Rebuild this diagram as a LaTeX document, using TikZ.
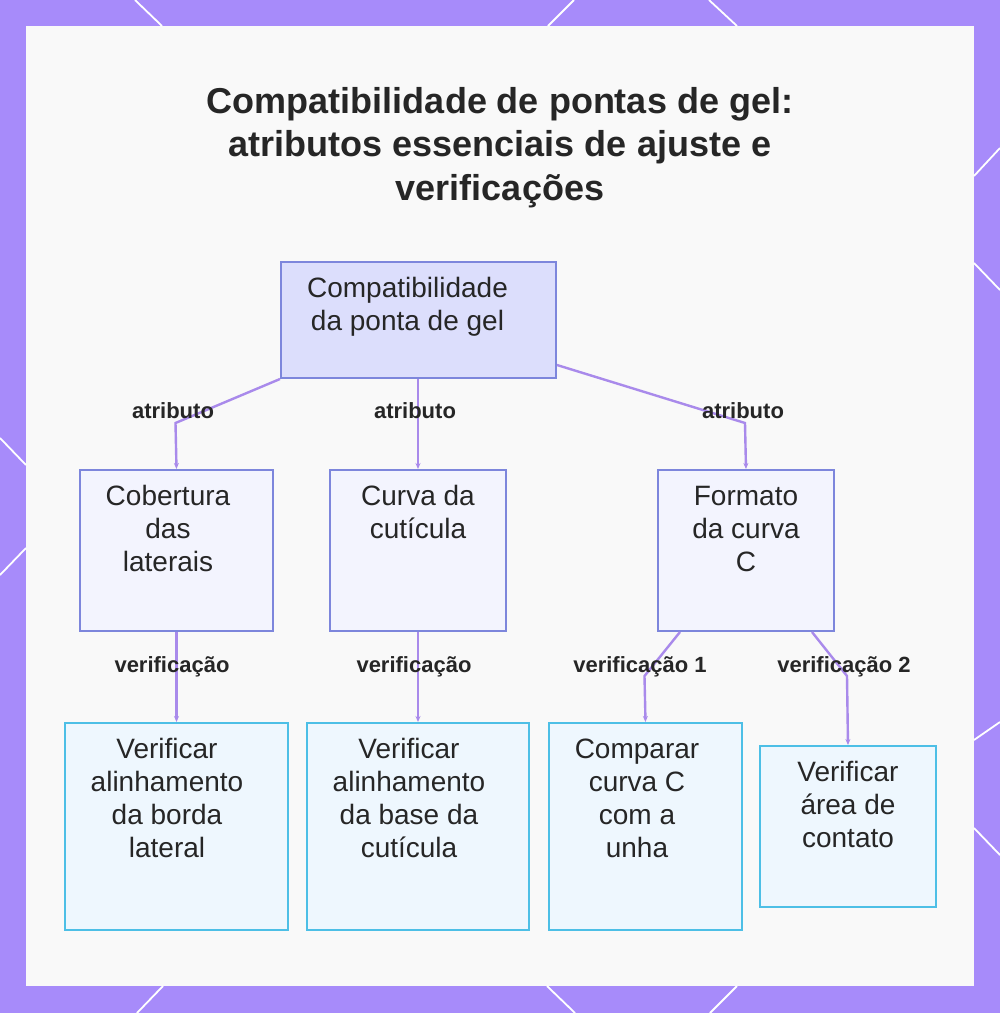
\documentclass[tikz,border=0pt]{standalone}
\usepackage{fontspec}
\setmainfont{Liberation Sans}
\usetikzlibrary{arrows.meta}
\definecolor{frame}{HTML}{A78BFA}
\definecolor{panel}{HTML}{F9F9F9}
\definecolor{edgec}{HTML}{A98AEB}
\definecolor{topfill}{HTML}{DCDEFC}
\definecolor{midfill}{HTML}{F3F4FE}
\definecolor{indb}{HTML}{7D86DC}
\definecolor{botfill}{HTML}{EEF7FE}
\definecolor{cyanb}{HTML}{4DBFE6}
\definecolor{ink}{HTML}{262626}
\newcommand{\boxtxt}[4]{\parbox[c][#1][t]{#2}{\centering\setlength\rightskip{#3 plus 1fil}\vspace*{12pt}\strut #4}}
\tikzset{
  boxbase/.style={draw, line width=2pt, inner sep=0pt, anchor=north west, text=ink,
    font=\fontsize{28}{33}\selectfont},
  topbox/.style={boxbase, draw=indb, fill=topfill},
  midbox/.style={boxbase, draw=indb, fill=midfill},
  botbox/.style={boxbase, draw=cyanb, fill=botfill},
  edge/.style={draw=edgec, line width=2.4pt, -{Stealth[length=6pt,width=5pt]}},
  elabel/.style={anchor=base, text=ink, font=\fontsize{22}{26}\selectfont\bfseries},
  deco/.style={draw=white, line width=1.8pt},
  titlef/.style={anchor=base, text=ink, font=\fontsize{36}{44}\selectfont\bfseries}
}
\begin{document}
\begin{tikzpicture}[x=1pt,y=-1pt]
\useasboundingbox (0,0) rectangle (1000,1013);
\fill[frame] (0,0) rectangle (1000,1013);
\fill[panel] (26,26) rectangle (974,986);
% decorative border lines
\draw[deco] (135,0) -- (162,26);
\draw[deco] (574,0) -- (548,26);
\draw[deco] (709,0) -- (737,26);
\draw[deco] (974,176) -- (1000,148);
\draw[deco] (974,263) -- (1000,290);
\draw[deco] (974,740) -- (1000,722);
\draw[deco] (974,828) -- (1000,855);
\draw[deco] (547,986) -- (575,1013);
\draw[deco] (737,986) -- (710,1013);
\draw[deco] (163,986) -- (137,1013);
\draw[deco] (0,438) -- (26,465);
\draw[deco] (26,548) -- (0,575);
% title
\node[titlef] (t1) at (500,113) {Compatibilidade de pontas de gel:};
\node[titlef] (t2) at (500,156.5) {atributos essenciais de ajuste e};
\node[titlef] (t3) at (500,200) {verificações};
% boxes
\node[topbox, minimum width=275pt, minimum height=116pt] (top) at (280,261)
  {\boxtxt{116pt}{275pt}{22pt}{Compatibilidade\\da ponta de gel}};
\node[midbox, minimum width=193pt, minimum height=161pt] (cob) at (79,469)
  {\boxtxt{161pt}{193pt}{17pt}{Cobertura\\das\\laterais}};
\node[midbox, minimum width=176pt, minimum height=161pt] (cur) at (329,469)
  {\boxtxt{161pt}{176pt}{0pt}{Curva da\\cutícula}};
\node[midbox, minimum width=176pt, minimum height=161pt] (form) at (657,469)
  {\boxtxt{161pt}{176pt}{0pt}{Formato\\da curva\\C}};
\node[botbox, minimum width=223pt, minimum height=207pt] (v1) at (64,722)
  {\boxtxt{207pt}{223pt}{19pt}{Verificar\\alinhamento\\da borda\\lateral}};
\node[botbox, minimum width=222pt, minimum height=207pt] (v2) at (306,722)
  {\boxtxt{207pt}{222pt}{18pt}{Verificar\\alinhamento\\da base da\\cutícula}};
\node[botbox, minimum width=193pt, minimum height=207pt] (comp) at (548,722)
  {\boxtxt{207pt}{193pt}{17pt}{Comparar\\curva C\\com a\\unha}};
\node[botbox, minimum width=176pt, minimum height=161pt] (area) at (759,745)
  {\boxtxt{161pt}{176pt}{0pt}{Verificar\\área de\\contato}};
% bend points
\coordinate (b1) at (175.5,423);
\coordinate (b3) at (745,423);
\coordinate (b4) at (644.5,676);
\coordinate (b5) at (847,676);
% edges
\draw[edge] (top.south west) -- (b1) -- (cob.north);
\draw[edge] (cur.north |- top.south) -- (cur.north);
\draw[edge] ([yshift=14pt]top.south east) -- (b3) -- (form.north);
\draw[edge] (cob.south) -- (v1.north);
\draw[edge] (cur.south) -- (v2.north);
\draw[edge] ([xshift=23pt]form.south west) -- (b4) -- (comp.north);
\draw[edge] ([xshift=-23pt]form.south east) -- (b5) -- (area.north);
% labels
\node[elabel] (l1) at (173,418) {atributo};
\node[elabel] (l2) at (415,418) {atributo};
\node[elabel] (l3) at (743,418) {atributo};
\node[elabel] (l4) at (172,672) {verificação};
\node[elabel] (l5) at (414,672) {verificação};
\node[elabel] (l6) at (640,672) {verificação 1};
\node[elabel] (l7) at (844,672) {verificação 2};
\end{tikzpicture}
\end{document}
